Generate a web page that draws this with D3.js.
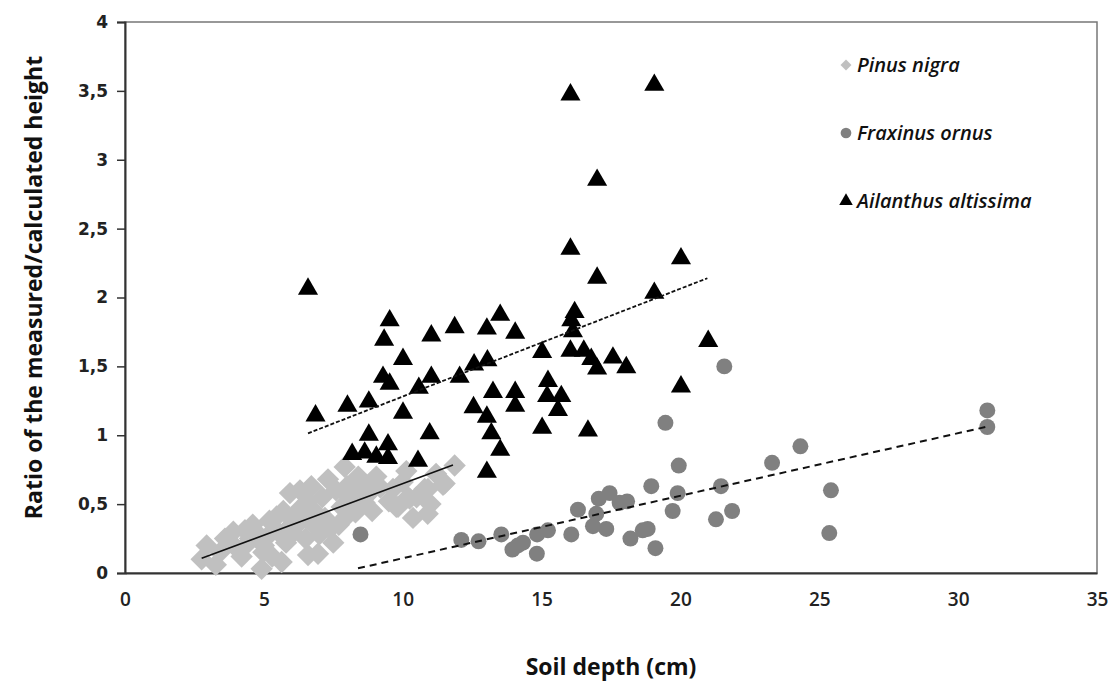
<!DOCTYPE html>
<html>
<head>
<meta charset="utf-8">
<script src="https://cdn.jsdelivr.net/npm/d3@7"></script>
<style>
  body { margin: 0; background: #fff; }
  svg { display: block; }
  .tick text { font-family: "DejaVu Sans", Verdana, sans-serif; font-weight: bold; font-size: 17px; fill: #222; }
</style>
</head>
<body>
<div id="chart"></div>
<script>
const width = 1119;
const height = 688;
const margin = { top: 22, right: 22, bottom: 115, left: 125 };

// Pinus nigra [soil depth, ratio]
const pinusX = [2.94, 2.76, 3.27, 3.42, 4.02, 4.32, 4.44, 4.92, 4.98, 5.1, 5.46, 5.64, 5.94, 6.05, 6.36, 6.59, 6.71, 6.95, 6.83, 7.31,
  7.37, 7.91, 7.97, 8.09, 8.57, 8.63, 9.05, 9.83, 10.37, 10.79, 11.45, 11.87, 9.65, 10.19,
  3.6, 3.9, 4.2, 4.6, 4.8, 5.0, 5.2, 5.3, 5.5, 5.7, 5.8, 6.0, 6.2, 6.3, 6.5, 6.6, 6.8, 7.0, 7.1, 7.2, 7.5, 7.6, 7.8, 8.0,
  8.3, 8.4, 8.8, 9.2, 9.5, 10.0, 10.5, 11.0, 11.2, 10.9, 11.51, 10.91, 10.25, 9.77, 10.13, 9.0,
  4.5, 5.9, 6.4, 7.7, 8.2, 8.9];
const pinusY = [0.20, 0.10, 0.06, 0.15, 0.18, 0.31, 0.22, 0.03, 0.15, 0.26, 0.41, 0.08, 0.58, 0.29, 0.48, 0.13, 0.63, 0.14, 0.34, 0.68,
  0.32, 0.77, 0.41, 0.55, 0.65, 0.51, 0.70, 0.48, 0.40, 0.61, 0.64, 0.78, 0.61, 0.55,
  0.25, 0.30, 0.12, 0.35, 0.28, 0.20, 0.38, 0.12, 0.30, 0.45, 0.22, 0.40, 0.35, 0.60, 0.25, 0.52, 0.45, 0.28, 0.55, 0.40, 0.22, 0.60, 0.48, 0.63,
  0.44, 0.70, 0.58, 0.62, 0.52, 0.66, 0.55, 0.50, 0.72, 0.43, 0.65, 0.61, 0.54, 0.48, 0.74, 0.65,
  0.25, 0.33, 0.40, 0.35, 0.58, 0.45];

// Fraxinus ornus
const fraxX = [8.48, 12.11, 12.73, 13.55, 13.95, 14.15, 14.33, 14.83, 14.84, 15.23, 16.07, 16.31, 16.85, 16.97, 17.06, 17.45, 17.33,
  17.81, 18.08, 18.2, 18.64, 18.82, 19.1, 18.95, 19.46, 19.94, 19.9, 19.72, 21.46, 21.28, 21.86, 23.3, 24.32, 21.58, 31.05, 31.05, 25.42, 25.36];
const fraxY = [0.28, 0.24, 0.23, 0.28, 0.17, 0.20, 0.22, 0.14, 0.28, 0.31, 0.28, 0.46, 0.34, 0.43, 0.54, 0.58, 0.32,
  0.51, 0.52, 0.25, 0.31, 0.32, 0.18, 0.63, 1.09, 0.78, 0.58, 0.45, 0.63, 0.39, 0.45, 0.80, 0.92, 1.50, 1.18, 1.06, 0.60, 0.29];

// Ailanthus altissima
const ailX = [6.59, 9.53, 9.33, 11.03, 11.87, 13.03, 13.51, 14.05, 17.0, 19.06, 16.19, 16.07, 16.13, 10.01, 15.02, 16.04, 16.52, 16.79,
  17.0, 17.57, 18.05, 20.02, 12.57, 13.05, 12.05, 11.03, 9.29, 9.53, 10.58, 8.01, 8.78, 6.86, 10.01, 13.25, 14.05, 14.05, 15.23, 15.2,
  15.71, 15.59, 12.55, 13.03, 13.19, 13.51, 15.02, 16.67, 10.97, 8.78, 9.47, 8.18, 8.63, 9.05, 9.47, 10.55, 13.03,
  16.04, 19.06, 17.0, 16.04, 20.02, 21.0];
const ailY = [2.07, 1.84, 1.70, 1.73, 1.79, 1.78, 1.88, 1.75, 2.15, 2.04, 1.90, 1.84, 1.76, 1.56, 1.61, 1.62, 1.62, 1.56,
  1.49, 1.57, 1.50, 1.36, 1.52, 1.55, 1.43, 1.43, 1.43, 1.38, 1.35, 1.22, 1.25, 1.15, 1.17, 1.32, 1.32, 1.22, 1.40, 1.29,
  1.29, 1.19, 1.21, 1.14, 1.02, 0.90, 1.06, 1.04, 1.02, 1.01, 0.94, 0.87, 0.88, 0.85, 0.84, 0.82, 0.74,
  3.48, 3.55, 2.86, 2.36, 2.29, 1.69];

// linear trend lines: [x start, x end, slope, intercept]
const trendPinus = [2.76, 11.81, 0.0748, -0.099];
const trendFrax = [8.39, 31.05, 0.0454, -0.347];
const trendAil = [6.59, 20.97, 0.0783, 0.498];

const xTicks = [0, 5, 10, 15, 20, 25, 30, 35];
const yTicks = [0, 0.5, 1, 1.5, 2, 2.5, 3, 3.5, 4];
const legendNames = ["Pinus nigra", "Fraxinus ornus", "Ailanthus altissima"];

const svg = d3.select("#chart").append("svg")
  .attr("width", width)
  .attr("height", height);

const x = d3.scaleLinear().domain([0, 35]).range([margin.left, width - margin.right]);
const y = d3.scaleLinear().domain([0, 4]).range([height - margin.bottom, margin.top]);
const fmt = d => String(d).replace(".", ",");

// frame (top & right light border)
svg.append("rect")
  .attr("x", x(0)).attr("y", y(4))
  .attr("width", x(35) - x(0)).attr("height", y(0) - y(4))
  .attr("fill", "none").attr("stroke", "#777").attr("stroke-width", 1.5);

// y axis
const yAxis = svg.append("g")
  .attr("transform", `translate(${x(0)},0)`)
  .call(d3.axisLeft(y).tickValues(yTicks).tickFormat(fmt).tickSize(8).tickPadding(9));
yAxis.select(".domain").attr("stroke", "#333").attr("stroke-width", 2);
yAxis.selectAll(".tick line").attr("stroke", "#333").attr("stroke-width", 1.5);

// x axis (no tick marks)
const xAxis = svg.append("g")
  .attr("transform", `translate(0,${y(0)})`)
  .call(d3.axisBottom(x).tickValues(xTicks).tickSize(0).tickPadding(20));
xAxis.select(".domain").attr("stroke", "#333").attr("stroke-width", 2);
xAxis.selectAll(".tick text").style("font-family", "'Open Sans', sans-serif").style("font-weight", "600").style("font-size", "19px");

// points
const diamond = d3.symbol().type(d3.symbolSquare).size(250)();
const circle = d3.symbol().type(d3.symbolCircle).size(200)();
const tri = d3.symbol().type(d3.symbolTriangle).size(175)();

svg.append("g").selectAll("path")
  .data(d3.zip(pinusX, pinusY))
  .join("path")
  .attr("d", diamond)
  .attr("transform", d => `translate(${x(d[0])},${y(d[1])}) rotate(45)`)
  .attr("fill", "#c0c0c0");

svg.append("g").selectAll("path")
  .data(d3.zip(fraxX, fraxY))
  .join("path")
  .attr("d", circle)
  .attr("transform", d => `translate(${x(d[0])},${y(d[1])})`)
  .attr("fill", "#808080");

svg.append("g").selectAll("path")
  .data(d3.zip(ailX, ailY))
  .join("path")
  .attr("d", tri)
  .attr("transform", d => `translate(${x(d[0])},${y(d[1]) + 1})`)
  .attr("fill", "#000");

// trend lines
function trend(t, dash, w) {
  svg.append("line")
    .attr("x1", x(t[0])).attr("y1", y(t[2] * t[0] + t[3]))
    .attr("x2", x(t[1])).attr("y2", y(t[2] * t[1] + t[3]))
    .attr("stroke", "#111").attr("stroke-width", w)
    .attr("stroke-dasharray", dash);
}
trend(trendPinus, null, 1.6);
trend(trendFrax, "7,5", 2);
trend(trendAil, "4,2", 1.8);

// legend
const legend = svg.append("g");
const legendSym = [
  d3.symbol().type(d3.symbolSquare).size(60)(),
  d3.symbol().type(d3.symbolCircle).size(90)(),
  d3.symbol().type(d3.symbolTriangle).size(80)()
];
const legendFill = ["#c0c0c0", "#808080", "#000"];
legendNames.forEach((name, i) => {
  const ly = 65 + i * 68;
  legend.append("path")
    .attr("d", legendSym[i])
    .attr("transform", `translate(846,${ly})` + (i === 0 ? " rotate(45)" : ""))
    .attr("fill", legendFill[i]);
  legend.append("text")
    .attr("x", 857).attr("y", ly + 7)
    .attr("font-family", "'Open Sans', sans-serif")
    .attr("font-style", "italic")
    .attr("font-weight", "600")
    .attr("font-size", 20)
    .attr("fill", "#111")
    .text(name);
});

// axis titles
svg.append("text")
  .attr("x", (x(0) + x(35)) / 2).attr("y", 675)
  .attr("text-anchor", "middle")
  .attr("font-family", "'Open Sans', sans-serif")
  .attr("font-weight", "bold")
  .attr("font-size", 23)
  .attr("fill", "#111")
  .text("Soil depth (cm)");

svg.append("text")
  .attr("transform", `translate(42,${(y(0) + y(4)) / 2 - 10}) rotate(-90)`)
  .attr("text-anchor", "middle")
  .attr("font-family", "'Open Sans', sans-serif")
  .attr("font-weight", "bold")
  .attr("font-size", 23)
  .attr("fill", "#111")
  .text("Ratio of the measured/calculated height");
</script>
</body>
</html>
